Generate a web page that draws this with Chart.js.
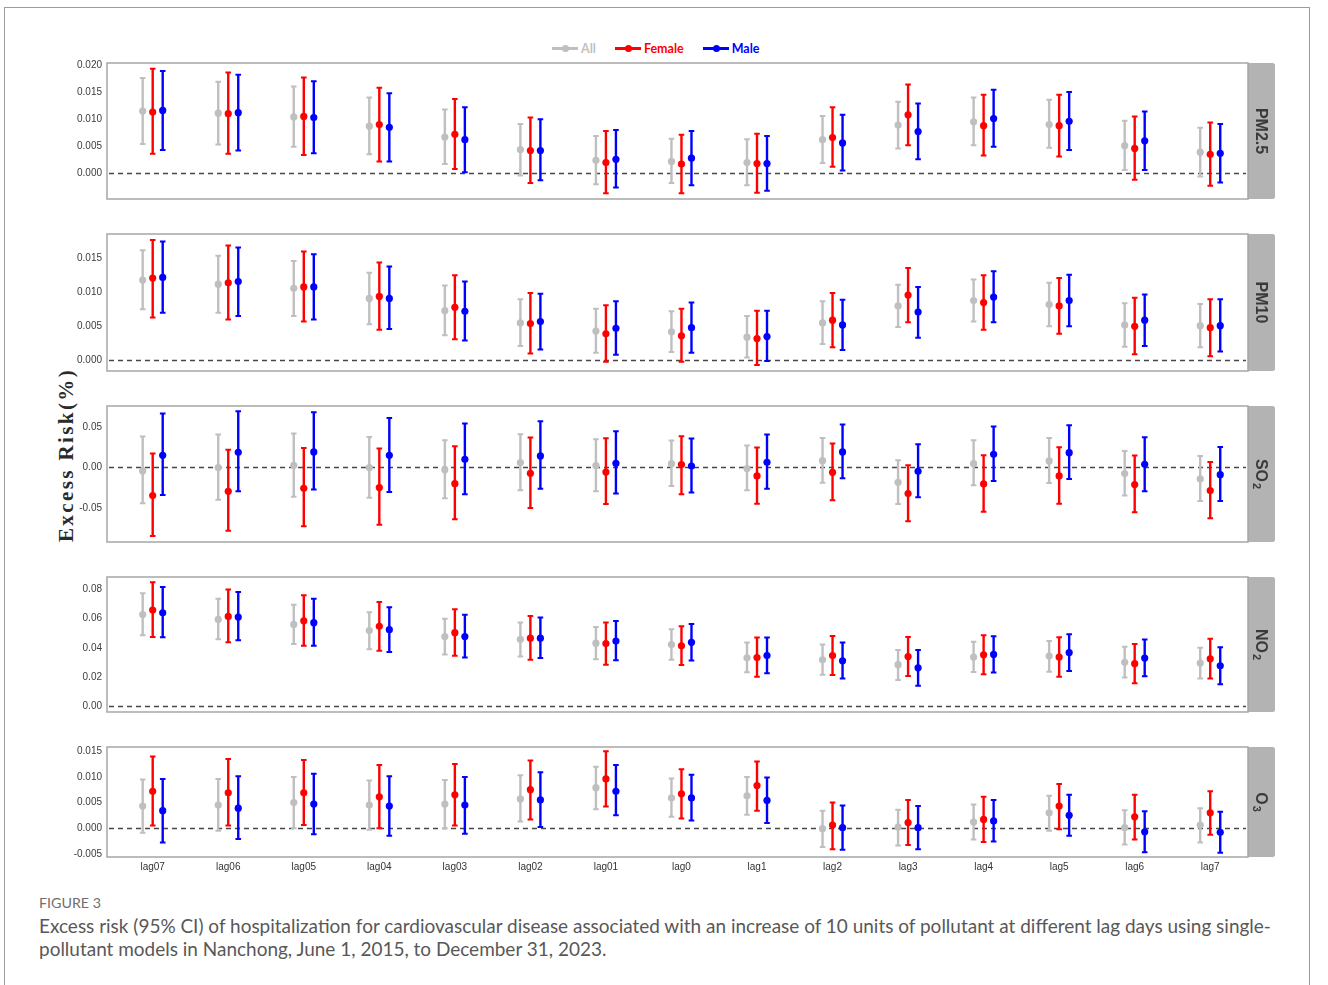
<!DOCTYPE html>
<html>
<head>
<meta charset="utf-8">
<title>Excess risk by lag day</title>
<script src="https://cdn.jsdelivr.net/npm/chart.js@4.4.1/dist/chart.umd.min.js"></script>
<style>
  html, body { margin: 0; padding: 0; background: #fff; }
  #page { position: relative; width: 1328px; height: 985px; overflow: hidden; background: #fff; }
  #frame { position: absolute; left: 4px; top: 7px; width: 1306px; height: 1010px; border: 1px solid #9c9c9c; box-sizing: border-box; }
  .panel { position: absolute; left: 0; }
  #legend { position: absolute; left: 552px; top: 40px; height: 16px; display: flex; align-items: center;
            font: bold 12.5px Lato, "Open Sans", sans-serif; white-space: nowrap; }
  #legend .item { display: flex; align-items: center; margin-right: 19px; }
  #legend .sym { position: relative; width: 26px; height: 3px; margin-right: 3px; }
  #legend .sym::after { content: ""; position: absolute; left: 10px; top: -2px; width: 7px; height: 7px;
                        border-radius: 50%; background: inherit; }
  #ytitle { position: absolute; left: 66px; top: 455px; transform: translate(-50%, -50%) rotate(-90deg);
            font: bold 21px "Liberation Serif", "DejaVu Serif", serif; letter-spacing: 2.4px; color: #2b2b2b;
            white-space: nowrap; }
  #figno { position: absolute; left: 39px; top: 895px; font: 13px Lato, sans-serif; color: #6e6e6e;
           white-space: nowrap; line-height: 16px; }
  #caption { position: absolute; left: 39px; top: 914px; font: 17.5px Lato, sans-serif; color: #585858;
             line-height: 23px; white-space: nowrap; }
</style>
</head>
<body>
<div id="page">
  <div id="frame"></div>
  <div id="legend"></div>
  <div id="ytitle">Excess Risk(%)</div>
  <canvas id="c0" class="panel"></canvas>
  <canvas id="c1" class="panel"></canvas>
  <canvas id="c2" class="panel"></canvas>
  <canvas id="c3" class="panel"></canvas>
  <canvas id="c4" class="panel"></canvas>
  <div id="figno">FIGURE 3</div>
  <div id="caption"><span id="cap1">Excess risk (95% CI) of hospitalization for cardiovascular disease associated with an increase of 10 units of pollutant at different lag days using single-</span><br><span id="cap2">pollutant models in Nanchong, June 1, 2015, to December 31, 2023.</span></div>
</div>
<script>
// Lag structures on the x axis
const lags = ['lag07','lag06','lag05','lag04','lag03','lag02','lag01','lag0','lag1','lag2','lag3','lag4','lag5','lag6','lag7'];
const groups = ['All', 'Female', 'Male'];

// Each entry: [estimate, lower 95% CI, upper 95% CI], one per lag
const pm25All    = [[0.0115,0.0054,0.0176],[0.0111,0.0053,0.0169],[0.0104,0.0049,0.0160],[0.0087,0.0035,0.0140],[0.0067,0.0017,0.0118],[0.0044,-0.0004,0.0091],[0.0024,-0.0020,0.0069],[0.0022,-0.0018,0.0064],[0.0020,-0.0022,0.0063],[0.0062,0.0019,0.0106],[0.0089,0.0046,0.0132],[0.0095,0.0052,0.0140],[0.0090,0.0047,0.0136],[0.0051,0.0006,0.0097],[0.0039,-0.0006,0.0084]];
const pm25Female = [[0.0113,0.0036,0.0193],[0.0110,0.0036,0.0186],[0.0105,0.0034,0.0177],[0.0090,0.0022,0.0158],[0.0072,0.0008,0.0137],[0.0042,-0.0018,0.0103],[0.0020,-0.0037,0.0078],[0.0017,-0.0037,0.0071],[0.0018,-0.0036,0.0073],[0.0066,0.0012,0.0122],[0.0108,0.0052,0.0164],[0.0088,0.0033,0.0145],[0.0088,0.0031,0.0145],[0.0046,-0.0012,0.0105],[0.0035,-0.0023,0.0094]];
const pm25Male   = [[0.0116,0.0043,0.0189],[0.0112,0.0042,0.0182],[0.0103,0.0037,0.0170],[0.0085,0.0022,0.0148],[0.0062,0.0002,0.0122],[0.0042,-0.0013,0.0100],[0.0026,-0.0026,0.0080],[0.0028,-0.0022,0.0078],[0.0018,-0.0032,0.0069],[0.0056,0.0005,0.0108],[0.0077,0.0026,0.0129],[0.0101,0.0049,0.0154],[0.0096,0.0043,0.0150],[0.0060,0.0006,0.0114],[0.0037,-0.0017,0.0091]];

const pm10All    = [[0.0118,0.0075,0.0162],[0.0112,0.0070,0.0154],[0.0106,0.0065,0.0146],[0.0091,0.0053,0.0129],[0.0073,0.0037,0.0110],[0.0055,0.0021,0.0090],[0.0043,0.0011,0.0076],[0.0042,0.0012,0.0072],[0.0034,0.0004,0.0065],[0.0055,0.0024,0.0087],[0.0080,0.0049,0.0111],[0.0088,0.0057,0.0119],[0.0082,0.0050,0.0114],[0.0052,0.0020,0.0084],[0.0051,0.0019,0.0083]];
const pm10Female = [[0.0121,0.0063,0.0177],[0.0114,0.0060,0.0169],[0.0108,0.0057,0.0160],[0.0094,0.0045,0.0144],[0.0078,0.0031,0.0125],[0.0054,0.0010,0.0099],[0.0039,-0.0002,0.0081],[0.0036,-0.0002,0.0076],[0.0032,-0.0007,0.0073],[0.0059,0.0019,0.0099],[0.0096,0.0056,0.0136],[0.0085,0.0045,0.0125],[0.0080,0.0039,0.0121],[0.0050,0.0009,0.0092],[0.0048,0.0006,0.0090]];
const pm10Male   = [[0.0122,0.0070,0.0175],[0.0116,0.0065,0.0166],[0.0108,0.0060,0.0156],[0.0091,0.0046,0.0138],[0.0072,0.0029,0.0116],[0.0057,0.0016,0.0098],[0.0047,0.0008,0.0087],[0.0048,0.0011,0.0085],[0.0035,-0.0001,0.0073],[0.0052,0.0015,0.0089],[0.0071,0.0033,0.0108],[0.0093,0.0056,0.0131],[0.0088,0.0050,0.0126],[0.0059,0.0021,0.0097],[0.0051,0.0013,0.0090]];

const so2All     = [[-0.0045,-0.0445,0.0379],[-0.0004,-0.0400,0.0404],[0.0025,-0.0363,0.0416],[-0.0004,-0.0375,0.0375],[-0.0029,-0.0383,0.0334],[0.0058,-0.0284,0.0408],[0.0021,-0.0297,0.0346],[0.0045,-0.0231,0.0330],[-0.0016,-0.0284,0.0268],[0.0082,-0.0190,0.0363],[-0.0185,-0.0453,0.0087],[0.0045,-0.0222,0.0334],[0.0078,-0.0194,0.0363],[-0.0078,-0.0350,0.0202],[-0.0144,-0.0416,0.0140]];
const so2Female  = [[-0.0350,-0.0849,0.0169],[-0.0297,-0.0783,0.0218],[-0.0260,-0.0729,0.0239],[-0.0251,-0.0709,0.0231],[-0.0202,-0.0643,0.0260],[-0.0074,-0.0503,0.0367],[-0.0058,-0.0453,0.0358],[0.0033,-0.0334,0.0383],[-0.0107,-0.0449,0.0243],[-0.0062,-0.0408,0.0293],[-0.0325,-0.0667,0.0025],[-0.0206,-0.0548,0.0148],[-0.0107,-0.0449,0.0247],[-0.0214,-0.0556,0.0144],[-0.0288,-0.0630,0.0066]];
const so2Male    = [[0.0148,-0.0342,0.0663],[0.0185,-0.0297,0.0692],[0.0190,-0.0276,0.0680],[0.0148,-0.0305,0.0610],[0.0099,-0.0334,0.0540],[0.0140,-0.0264,0.0569],[0.0049,-0.0325,0.0445],[0.0016,-0.0313,0.0354],[0.0062,-0.0264,0.0404],[0.0190,-0.0136,0.0527],[-0.0049,-0.0371,0.0284],[0.0161,-0.0169,0.0503],[0.0181,-0.0144,0.0519],[0.0037,-0.0297,0.0371],[-0.0091,-0.0416,0.0251]];

const no2All     = [[0.0628,0.0486,0.0773],[0.0594,0.0459,0.0735],[0.0560,0.0427,0.0694],[0.0518,0.0391,0.0644],[0.0477,0.0355,0.0599],[0.0459,0.0341,0.0574],[0.0432,0.0323,0.0542],[0.0423,0.0319,0.0527],[0.0332,0.0233,0.0436],[0.0319,0.0217,0.0423],[0.0285,0.0181,0.0386],[0.0337,0.0235,0.0441],[0.0344,0.0237,0.0447],[0.0301,0.0197,0.0407],[0.0296,0.0190,0.0400]];
const no2Female  = [[0.0658,0.0475,0.0848],[0.0615,0.0438,0.0798],[0.0585,0.0414,0.0759],[0.0547,0.0380,0.0714],[0.0504,0.0346,0.0664],[0.0466,0.0319,0.0617],[0.0429,0.0285,0.0574],[0.0414,0.0283,0.0547],[0.0334,0.0203,0.0470],[0.0348,0.0215,0.0481],[0.0341,0.0208,0.0475],[0.0353,0.0219,0.0486],[0.0337,0.0203,0.0472],[0.0292,0.0158,0.0427],[0.0325,0.0190,0.0463]];
const no2Male    = [[0.0640,0.0472,0.0816],[0.0610,0.0452,0.0782],[0.0572,0.0414,0.0735],[0.0524,0.0371,0.0678],[0.0477,0.0334,0.0626],[0.0466,0.0330,0.0608],[0.0447,0.0316,0.0583],[0.0438,0.0314,0.0563],[0.0348,0.0226,0.0470],[0.0312,0.0190,0.0436],[0.0264,0.0142,0.0386],[0.0355,0.0231,0.0479],[0.0368,0.0242,0.0493],[0.0330,0.0206,0.0457],[0.0278,0.0151,0.0405]];

const o3All      = [[0.0043,-0.0009,0.0095],[0.0045,-0.0005,0.0096],[0.0050,0.0000,0.0100],[0.0045,-0.0003,0.0093],[0.0047,0.0000,0.0094],[0.0057,0.0013,0.0103],[0.0079,0.0037,0.0120],[0.0059,0.0022,0.0097],[0.0063,0.0026,0.0100],[-0.0001,-0.0037,0.0034],[0.0002,-0.0034,0.0036],[0.0012,-0.0022,0.0046],[0.0030,-0.0005,0.0063],[0.0001,-0.0032,0.0035],[0.0006,-0.0028,0.0039]];
const o3Female   = [[0.0072,0.0005,0.0140],[0.0069,0.0005,0.0135],[0.0069,0.0006,0.0133],[0.0061,0.0000,0.0123],[0.0065,0.0005,0.0125],[0.0075,0.0017,0.0132],[0.0096,0.0042,0.0150],[0.0067,0.0019,0.0115],[0.0083,0.0034,0.0130],[0.0006,-0.0041,0.0050],[0.0011,-0.0033,0.0055],[0.0017,-0.0027,0.0061],[0.0043,-0.0002,0.0086],[0.0022,-0.0022,0.0065],[0.0030,-0.0013,0.0072]];
const o3Male     = [[0.0034,-0.0028,0.0096],[0.0039,-0.0021,0.0101],[0.0047,-0.0012,0.0106],[0.0043,-0.0015,0.0101],[0.0045,-0.0011,0.0100],[0.0055,0.0002,0.0109],[0.0072,0.0025,0.0123],[0.0059,0.0015,0.0104],[0.0054,0.0010,0.0099],[0.0001,-0.0042,0.0044],[0.0001,-0.0041,0.0043],[0.0014,-0.0026,0.0055],[0.0025,-0.0015,0.0065],[-0.0007,-0.0047,0.0033],[-0.0008,-0.0048,0.0032]];

// Tick values for each pollutant's y axis
const pm25Ticks = [0, 0.005, 0.010, 0.015, 0.020];
const pm10Ticks = [0, 0.005, 0.010, 0.015];
const so2Ticks  = [-0.05, 0, 0.05];
const no2Ticks  = [0, 0.02, 0.04, 0.06, 0.08];
const o3Ticks   = [-0.005, 0, 0.005, 0.010, 0.015];

// Strip labels: main text plus subscript
const pollutantNames = [['PM2.5',''], ['PM10',''], ['SO','2'], ['NO','2'], ['O','3']];

// ---- styling / layout ----
const groupColors = ['#bfbfbf', '#ff0000', '#0000ff'];
const dodge = [-0.1325, 0, 0.1325];
const PLOT_LEFT = 107, PLOT_RIGHT = 1248, STRIP_W = 27, PAD = 14, XAXIS_H = 18;

const panels = [
  { series: [pm25All, pm25Female, pm25Male], ticks: pm25Ticks, digits: 3, top: 63,  height: 136, min: -0.00474, max: 0.02036 },
  { series: [pm10All, pm10Female, pm10Male], ticks: pm10Ticks, digits: 3, top: 234, height: 137, min: -0.00158, max: 0.01859 },
  { series: [so2All,  so2Female,  so2Male],  ticks: so2Ticks,  digits: 2, top: 406, height: 136, min: -0.0923,  max: 0.0757 },
  { series: [no2All,  no2Female,  no2Male],  ticks: no2Ticks,  digits: 2, top: 577, height: 135, min: -0.0038,  max: 0.0884 },
  { series: [o3All,   o3Female,   o3Male],   ticks: o3Ticks,   digits: 3, top: 747, height: 110, min: -0.00563, max: 0.01583 }
];

// Legend built from the group names
const legendEl = document.getElementById('legend');
groups.forEach((g, k) => {
  const item = document.createElement('span');
  item.className = 'item';
  const sym = document.createElement('span');
  sym.className = 'sym';
  sym.style.background = groupColors[k];
  const txt = document.createElement('span');
  txt.textContent = g;
  txt.style.color = groupColors[k];
  item.appendChild(sym); item.appendChild(txt);
  legendEl.appendChild(item);
});

// Error bars, zero reference line, panel border and facet strip
const facetPlugin = {
  id: 'facetDecor',
  beforeDatasetsDraw(chart) {
    const { ctx, chartArea: a, scales: { x, y } } = chart;
    ctx.save();
    const y0 = Math.round(y.getPixelForValue(0)) + 0.5;
    ctx.strokeStyle = '#474747';
    ctx.lineWidth = 1.3;
    ctx.setLineDash([5, 4]);
    ctx.beginPath(); ctx.moveTo(a.left + 2, y0); ctx.lineTo(a.right - 2, y0); ctx.stroke();
    ctx.setLineDash([]);
    chart.data.datasets.forEach(ds => {
      ctx.strokeStyle = ds.backgroundColor;
      ds.ci.forEach((c, i) => {
        const px = x.getPixelForValue(ds.data[i].x);
        const pLo = y.getPixelForValue(c[0]);
        const pHi = y.getPixelForValue(c[1]);
        ctx.lineWidth = 2.4;
        ctx.beginPath(); ctx.moveTo(px, pLo); ctx.lineTo(px, pHi); ctx.stroke();
        ctx.lineWidth = 2;
        ctx.beginPath();
        ctx.moveTo(px - 2.8, pLo); ctx.lineTo(px + 2.8, pLo);
        ctx.moveTo(px - 2.8, pHi); ctx.lineTo(px + 2.8, pHi);
        ctx.stroke();
      });
    });
    ctx.restore();
  },
  afterDraw(chart, args, opts) {
    const { ctx, chartArea: a } = chart;
    ctx.save();
    // facet strip
    ctx.fillStyle = '#b3b3b3';
    ctx.beginPath();
    if (ctx.roundRect) ctx.roundRect(a.right, a.top, STRIP_W, a.bottom - a.top, [0, 2.5, 2.5, 0]);
    else ctx.rect(a.right, a.top, STRIP_W, a.bottom - a.top);
    ctx.fill();
    // panel border
    ctx.strokeStyle = '#a6a6a6';
    ctx.lineWidth = 1.5;
    ctx.strokeRect(a.left, a.top, a.right - a.left, a.bottom - a.top);
    // strip label, rotated to read downwards
    const [main, sub] = opts.label;
    ctx.translate(a.right + STRIP_W / 2, (a.top + a.bottom) / 2);
    ctx.rotate(Math.PI / 2);
    ctx.fillStyle = '#3a3a3a';
    ctx.textBaseline = 'middle';
    ctx.textAlign = 'left';
    const mainFont = 'bold 16px "Liberation Sans", Arial, sans-serif';
    const subFont = 'bold 11px "Liberation Sans", Arial, sans-serif';
    ctx.font = mainFont;
    const wMain = ctx.measureText(main).width;
    ctx.font = subFont;
    const wSub = sub ? ctx.measureText(sub).width + 1 : 0;
    const start = -(wMain + wSub) / 2;
    ctx.font = mainFont;
    ctx.fillText(main, start, 1);
    if (sub) { ctx.font = subFont; ctx.fillText(sub, start + wMain + 1, 5); }
    ctx.restore();
  }
};

const tickFont = { family: '"Liberation Sans", Arial, sans-serif', size: 10 };

panels.forEach((p, idx) => {
  const last = idx === panels.length - 1;
  const canvas = document.getElementById('c' + idx);
  const h = PAD + p.height + (last ? XAXIS_H + 6 : PAD);
  canvas.width = 1328; canvas.height = h;
  canvas.style.top = (p.top - PAD) + 'px';
  canvas.style.width = '1328px'; canvas.style.height = h + 'px';

  const datasets = groups.map((g, k) => ({
    label: g,
    data: p.series[k].map((v, i) => ({ x: i + dodge[k], y: v[0] })),
    ci: p.series[k].map(v => [v[1], v[2]]),
    backgroundColor: groupColors[k],
    borderColor: groupColors[k],
    pointRadius: 3.6,
    pointBorderWidth: 0,
    pointHoverRadius: 3.6,
    clip: false
  }));

  new Chart(canvas, {
    type: 'scatter',
    data: { datasets },
    plugins: [facetPlugin],
    options: {
      responsive: false,
      animation: false,
      devicePixelRatio: 1,
      events: [],
      layout: { autoPadding: false, padding: { left: 0, right: 1328 - PLOT_RIGHT, top: PAD, bottom: last ? 6 : PAD } },
      plugins: { legend: { display: false }, tooltip: { enabled: false }, facetDecor: { label: pollutantNames[idx] } },
      scales: {
        x: {
          type: 'linear', min: -0.605, max: 14.5,
          display: last,
          grid: { display: false, drawTicks: false },
          border: { display: false },
          afterBuildTicks: s => { s.ticks = lags.map((_, i) => ({ value: i })); },
          afterFit: s => { s.height = last ? XAXIS_H : 0; },
          ticks: {
            autoSkip: false, maxRotation: 0, minRotation: 0, padding: 4,
            color: '#333', font: tickFont,
            callback: v => lags[Math.round(v)]
          }
        },
        y: {
          type: 'linear', min: p.min, max: p.max,
          grid: { display: false, drawTicks: false },
          border: { display: false },
          afterBuildTicks: s => { s.ticks = p.ticks.map(v => ({ value: v })); },
          afterFit: s => { s.width = PLOT_LEFT; },
          ticks: { padding: 5, color: '#3c3c3c', font: tickFont, callback: v => Number(v).toFixed(p.digits) }
        }
      }
    }
  });
});

// Size caption lines to the text block width
function fitText(el, measureEl, target) {
  const w = measureEl.getBoundingClientRect().width;
  const size = parseFloat(getComputedStyle(el).fontSize);
  if (w > 0) el.style.fontSize = (size * target / w).toFixed(2) + 'px';
}
function fitCaption() {
  fitText(document.getElementById('caption'), document.getElementById('cap1'), 1231);
  const fig = document.getElementById('figno');
  fitText(fig, fig, 62);
}
fitCaption();
if (document.fonts && document.fonts.ready) document.fonts.ready.then(fitCaption);
</script>
</body>
</html>
